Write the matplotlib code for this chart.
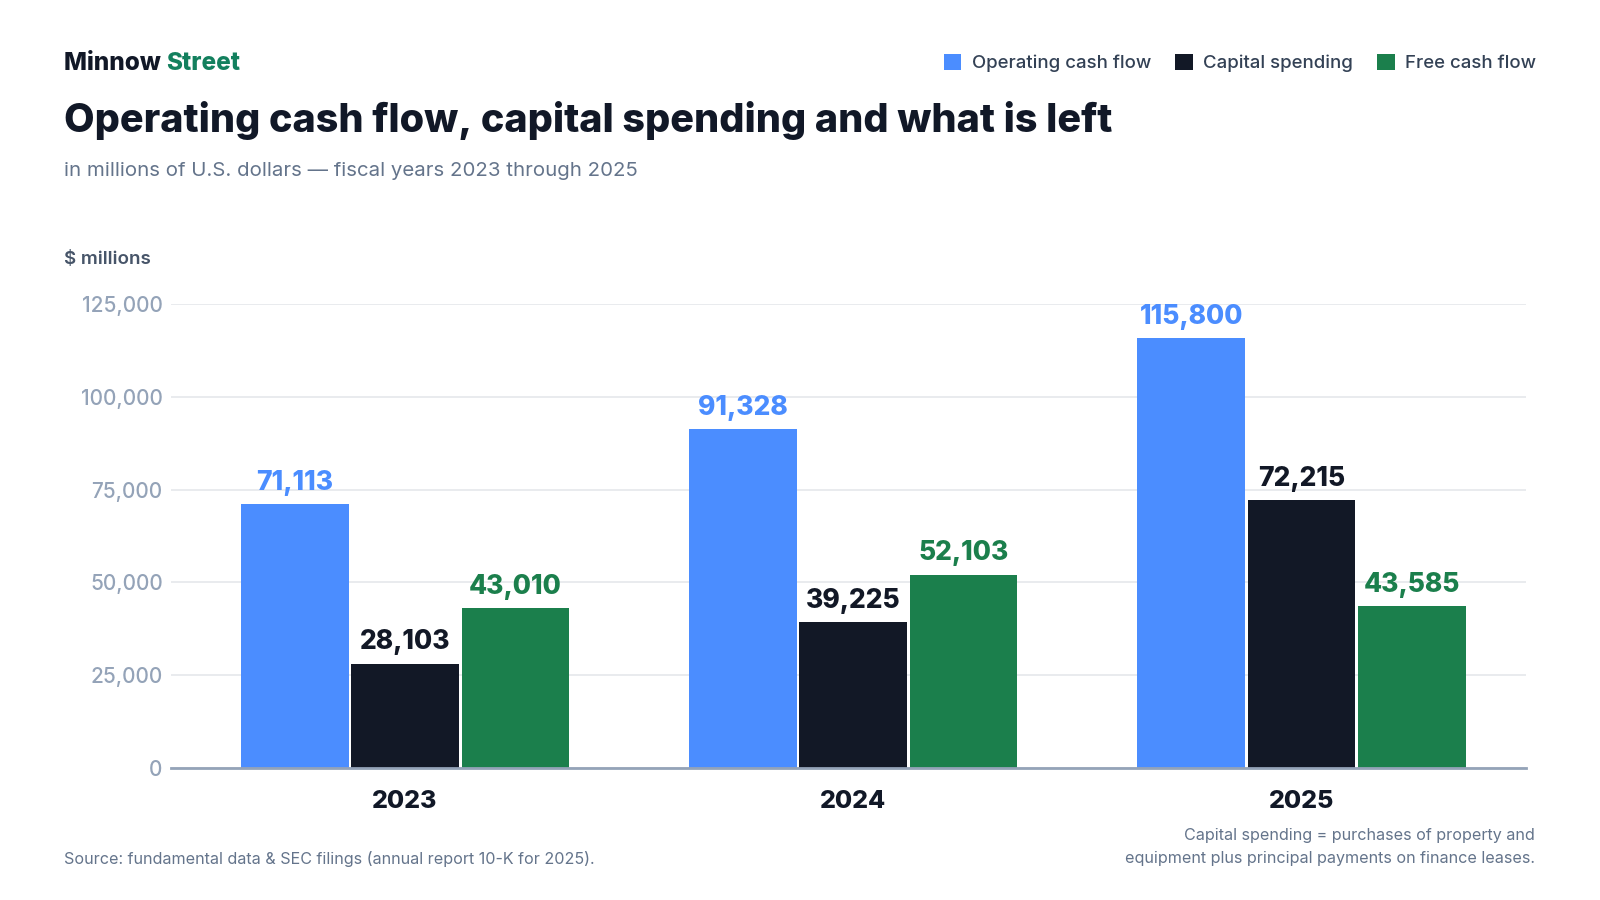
import matplotlib
matplotlib.use("Agg")
import matplotlib.pyplot as plt
import numpy as np
from matplotlib.ticker import FuncFormatter

plt.rcParams['font.family'] = ['Inter', 'DejaVu Sans']

years = ['2023', '2024', '2025']
series = ['Operating cash flow', 'Capital spending', 'Free cash flow']
operating = [71113, 91328, 115800]
capex = [28103, 39225, 72215]
free_cf = [43010, 52103, 43585]
y_ticks = [0, 25000, 50000, 75000, 100000, 125000]

colors = ['#4b8dff', '#121826', '#1b7f4c']
dark = '#111827'

fig = plt.figure(figsize=(16, 9), dpi=100)
fig.patch.set_facecolor('white')
ax = fig.add_axes([0.1069, 0.1467, 0.8469, 0.5156])

x = np.arange(len(years))
step = 0.246
width = 0.240
for i, (vals, name, c) in enumerate(zip([operating, capex, free_cf], series, colors)):
    pos = x + (i - 1) * step
    ax.bar(pos, vals, width, color=c, label=name, zorder=3)
    for xp, v in zip(pos, vals):
        ax.annotate(f'{v:,}', (xp, v), xytext=(0, 6), textcoords='offset points',
                    ha='center', va='bottom', fontsize=19, fontweight='heavy',
                    color=c, annotation_clip=False)

ax.set_xlim(-0.522, 2.501)
ax.set_ylim(0, 125000)
ax.set_yticks(y_ticks)
ax.yaxis.set_major_formatter(FuncFormatter(lambda v, p: f'{int(v):,}'))
ax.set_xticks(x)
ax.set_xticklabels(years, fontsize=18, fontweight='heavy', color=dark)
ax.tick_params(axis='x', length=0, pad=16)
ax.tick_params(axis='y', length=0, pad=6, labelsize=15, labelcolor='#94a3b8')
for lab in ax.get_yticklabels():
    lab.set_fontweight('medium')
ax.grid(axis='y', color='#e5e7eb', linewidth=1.2, zorder=0)
for s in ['top', 'right', 'left']:
    ax.spines[s].set_visible(False)
ax.spines['bottom'].set_color('#94a3b8')
ax.spines['bottom'].set_linewidth(2)
ax.spines['bottom'].set_zorder(4)

W, H = 1600, 900
def fx(px):
    return px / W
def fy(py):
    return 1 - py / H

# brand line
t1 = fig.text(fx(64), fy(64), 'Minnow ', fontsize=17.5, fontweight='heavy', color=dark, va='center')
fig.canvas.draw()
bb = t1.get_window_extent()
fig.text(bb.x1 / W, fy(64), 'Street', fontsize=17.5, fontweight='heavy', color='#13805e', va='center')

fig.text(fx(64), fy(120), 'Operating cash flow, capital spending and what is left',
         fontsize=28.5, fontweight='heavy', color=dark, va='center')
fig.text(fx(64), fy(171), 'in millions of U.S. dollars \u2014 fiscal years 2023 through 2025',
         fontsize=14.7, color='#64748b', va='center')
fig.text(fx(64), fy(260), '$ millions', fontsize=13.5, fontweight='semibold', color='#475569', va='center')

leg = fig.legend(loc='center right', bbox_to_anchor=(fx(1536), fy(63)), ncol=3, frameon=False,
                 fontsize=13.4, labelcolor='#334155', handlelength=0.95, handleheight=0.95,
                 handletextpad=0.55, columnspacing=1.3, borderpad=0, borderaxespad=0)
for t in leg.get_texts():
    t.set_fontweight('medium')

fig.text(fx(64), fy(859), 'Source: fundamental data & SEC filings (annual report 10-K for 2025).',
         fontsize=11.6, color='#64748b', va='center')
fig.text(fx(1535), fy(847), 'Capital spending = purchases of property and\nequipment plus principal payments on finance leases.',
         fontsize=11.6, color='#64748b', va='center', ha='right', linespacing=1.65)

fig.savefig('out.png', dpi=100, facecolor='white')
